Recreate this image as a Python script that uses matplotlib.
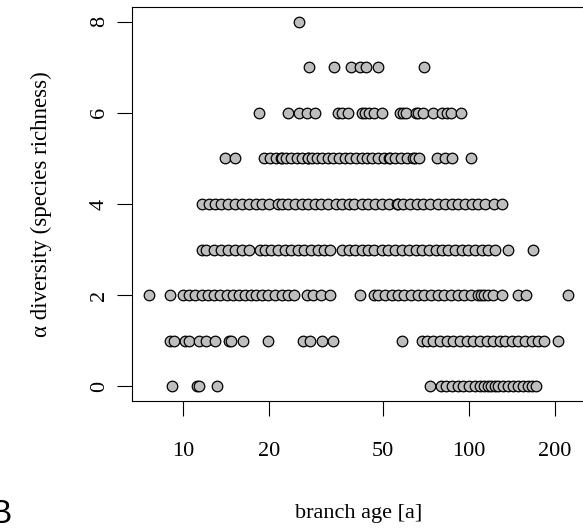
import numpy as np
import matplotlib.pyplot as plt
from matplotlib.ticker import FixedLocator, NullLocator

# branch ages [a] for each species-richness level
age_8 = [25.4]
age_7 = [27.6, 33.9, 38.8, 41.7, 43.7, 48.3, 69.6]
age_6 = [18.4, 23.4, 25.4, 27.1, 28.9, 35.0, 36.0, 37.8, 42.3, 43.4, 44.8, 46.8,
         49.9, 57.5, 59.1, 60.2, 65.3, 66.7, 69.4, 74.8, 80.5, 83.8, 86.7, 94.0]
age_5 = [14.1, 15.2, 19.2, 20.2, 21.1, 22.1, 22.3, 22.9, 23.9, 25.0, 26.2, 27.4,
         27.5, 28.2, 29.4, 30.8, 32.3, 33.6, 35.2, 37.0, 38.5, 40.3, 42.3, 44.0,
         46.0, 48.3, 50.7, 52.7, 53.1, 55.3, 58.0, 60.7, 64.1, 64.9, 67.1, 77.3,
         82.7, 87.2, 101.9]
age_4 = [11.7, 12.3, 13.0, 13.6, 14.4, 15.2, 16.1, 17.0, 18.0, 19.0, 20.0, 21.6,
         22.3, 23.4, 24.7, 26.1, 27.5, 28.9, 30.5, 32.3, 34.3, 36.2, 38.0, 39.8,
         42.3, 44.6, 47.0, 49.9, 52.7, 56.0, 56.8, 59.1, 62.4, 65.8, 69.4, 73.2,
         77.9, 82.7, 87.2, 92.0, 97.1, 102.4, 108.1, 114.1, 122.9, 131.2]
age_3 = [11.7, 12.1, 12.9, 13.6, 14.4, 15.2, 16.1, 17.0, 18.6, 19.4, 20.4, 21.5,
         22.7, 23.9, 25.2, 26.6, 28.1, 29.6, 31.3, 32.7, 36.2, 38.0, 40.1, 42.3,
         44.6, 46.8, 49.6, 52.4, 55.3, 58.6, 61.8, 65.3, 68.9, 72.6, 76.7, 80.5,
         84.9, 89.6, 94.5, 99.7, 105.2, 111.1, 116.5, 123.6, 137.6, 168.3]
age_2 = [7.6, 9.0, 10.05, 10.5, 11.0, 11.65, 12.2, 12.9, 13.5, 14.25, 15.0, 15.7,
         16.5, 17.3, 18.1, 19.0, 19.9, 21.0, 22.2, 23.4, 24.4, 27.1, 28.6, 30.5,
         32.7, 41.7, 46.8, 48.3, 51.0, 53.8, 56.8, 59.6, 62.9, 66.3, 70.0, 73.8,
         77.9, 82.2, 86.8, 91.5, 96.6, 101.9, 107.5, 110.4, 113.4, 117.2, 122.0,
         130.5, 149.2, 158.2, 223.1]
age_1 = [9.0, 9.3, 10.2, 10.5, 11.35, 12.1, 13.0, 14.5, 14.8, 16.3, 19.9, 26.4,
         27.9, 30.6, 33.6, 58.3, 68.9, 71.3, 75.2, 79.4, 83.8, 88.4, 93.3, 98.4,
         103.8, 109.6, 115.6, 122.0, 128.7, 134.0, 141.4, 149.2, 157.4, 166.1,
         175.2, 183.9, 204.7]
age_0 = [9.2, 11.2, 11.35, 13.15, 73.2, 80.1, 83.1, 87.2, 91.5, 95.8, 100.3,
         105.2, 109.6, 113.4, 116.5, 119.7, 123.6, 127.0, 132.2, 137.6, 143.3,
         149.2, 155.3, 161.7, 166.1, 171.5]

levels = [age_0, age_1, age_2, age_3, age_4, age_5, age_6, age_7, age_8]
x = np.concatenate([np.array(a) for a in levels])
y = np.concatenate([np.full(len(a), i) for i, a in enumerate(levels)])

x_ticks = [10, 20, 50, 100, 200]
y_ticks = [0, 2, 4, 6, 8]

plt.rcParams['font.family'] = ['Liberation Serif', 'DejaVu Serif']

fig = plt.figure(figsize=(5.83, 5.29), dpi=100)
ax = fig.add_axes([0.2264, 0.242, 0.7770, 0.7448])

ax.scatter(x, y, s=58, c='#bebebe', edgecolors='black', linewidths=0.9, zorder=3)

ax.set_xscale('log')
lx = np.log10(x)
pad = 0.04 * (lx.max() - lx.min())
ax.set_xlim(10 ** (lx.min() - pad), 10 ** (lx.max() + pad))
ax.set_ylim(-0.32, 8.32)

ax.xaxis.set_major_locator(FixedLocator(x_ticks))
ax.xaxis.set_minor_locator(NullLocator())
ax.set_xticklabels([str(t) for t in x_ticks])
ax.set_yticks(y_ticks)
ax.set_yticklabels([str(t) for t in y_ticks], rotation=90, va='center')

ax.tick_params(axis='both', direction='out', length=10.8, width=0.8,
               labelsize=16, color='black')
ax.tick_params(axis='x', pad=18.5)
ax.tick_params(axis='y', pad=6)
for sp in ax.spines.values():
    sp.set_linewidth(0.8)

ax.set_xlabel('branch age [a]', fontsize=16, labelpad=31)
ax.set_ylabel('α diversity (species richness)', fontsize=16.5, labelpad=27)

fig.text(-0.019, 0.012, 'B', fontsize=24, family='Liberation Sans', va='baseline')

fig.savefig('out.png', dpi=100)
